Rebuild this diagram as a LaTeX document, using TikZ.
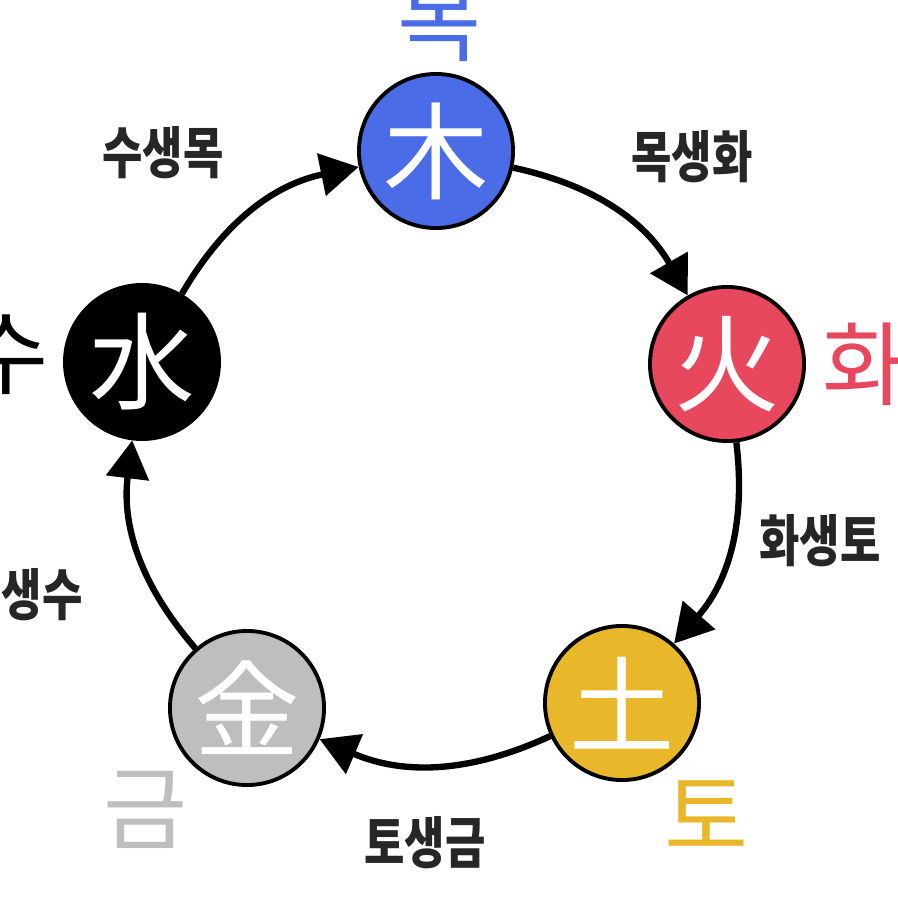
\documentclass[tikz,border=0pt]{standalone}
\usepackage{fontspec}
\newfontfamily\krfont{Noto Sans CJK KR}
\usepackage{tikz}
\usetikzlibrary{arrows.meta}
\usepackage{xcolor}
\definecolor{mokblue}{RGB}{74,108,230}
\definecolor{hwared}{RGB}{232,72,94}
\definecolor{toyellow}{RGB}{232,184,42}
\definecolor{geumgray}{RGB}{190,190,190}
\newcommand{\tallword}[1]{\scalebox{0.96}[1.22]{#1}}
\tikzset{
    element/.style={
        draw=black,
        circle,
        line width=1.1pt,
        minimum size=1.54cm,
        inner sep=0pt,
        text=white,
        font=\krfont\fontsize{30}{30}\selectfont
    },
    hangul/.style={
        inner sep=0pt,
        font=\krfont\fontsize{26}{26}\selectfont
    },
    saeng/.style={
        inner sep=0pt,
        text=black!85,
        font=\krfont\bfseries\fontsize{13}{13}\selectfont
    },
    cycle/.style={
        draw,
        line width=1.8pt,
        -{Triangle[length=0.38cm, width=0.42cm]}
    }
}

\begin{document}
\begin{tikzpicture}[x=0.01cm, y=-0.01cm]
  \useasboundingbox (0,0) rectangle (898,898);

  % The five elements
  \node[element, fill=mokblue] (wood) at (436,151) {木};
  \node[element, fill=hwared] (fire) at (727,364) {火};
  \node[element, fill=toyellow] (earth) at (622,703) {土};
  \node[element, fill=geumgray] (metal) at (247,708) {金};
  \node[element, fill=black] (water) at (142,362) {水};

  % Hangul names
  \node[hangul, text=mokblue] (woodname) at (440,22) {목};
  \node[hangul, text=hwared] (firename) at (865,364) {화};
  \node[hangul, text=toyellow] (earthname) at (707,815) {토};
  \node[hangul, text=geumgray] (metalname) at (146,810) {금};
  \node[hangul, text=black] (watername) at (7,355) {수};

  % Generating cycle
  \draw[cycle] (wood) to[bend left=24] (fire);
  \draw[cycle] (fire) to[bend left=24] (earth);
  \draw[cycle] (earth) to[bend left=24] (metal);
  \draw[cycle] (metal) to[bend left=24] (water);
  \draw[cycle] (water) to[bend left=24] (wood);

  % Cycle labels
  \node[saeng] (woodfire) at (692,157) {\tallword{목생화}};
  \node[saeng] (fireearth) at (820,541) {\tallword{화생토}};
  \node[saeng] (earthmetal) at (425,843) {\tallword{토생금}};
  \node[saeng] (metalwater) at (22,595) {\tallword{금생수}};
  \node[saeng] (waterwood) at (163,153) {\tallword{수생목}};
\end{tikzpicture}
\end{document}
